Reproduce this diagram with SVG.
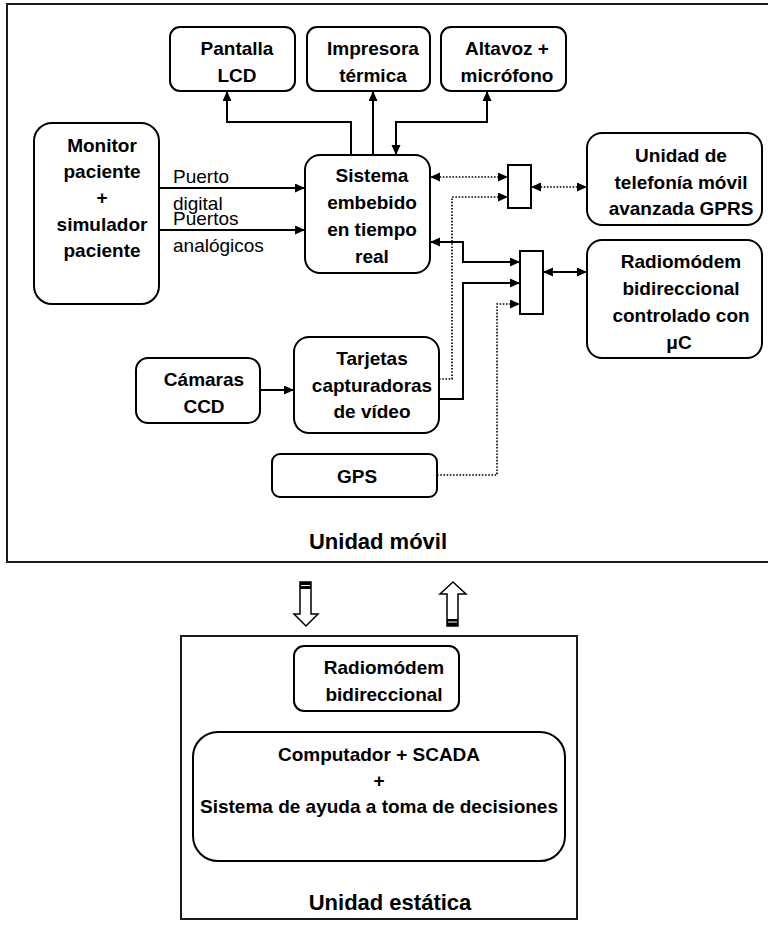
<svg xmlns="http://www.w3.org/2000/svg" width="768" height="925" viewBox="0 0 768 925">
<style>
.box{fill:#fff;stroke:#000;stroke-width:2}
.frame{fill:none;stroke:#1a1a1a;stroke-width:2}
.t{font-family:"Liberation Sans",Arial,sans-serif;font-weight:bold;font-size:19px;text-anchor:middle;fill:#000}
.lbl{font-family:"Liberation Sans",Arial,sans-serif;font-size:19px;fill:#000}
.big{font-family:"Liberation Sans",Arial,sans-serif;font-weight:bold;font-size:22px;text-anchor:middle;fill:#000}
.ln{fill:none;stroke:#000;stroke-width:2}
.dot{fill:none;stroke:#000;stroke-width:1.6;stroke-dasharray:1.6 1.6}
.hollow{fill:#fff;stroke:#000;stroke-width:1.5}
</style>
<defs>
<marker id="ah" markerUnits="userSpaceOnUse" markerWidth="10" markerHeight="10" refX="10" refY="4.5" orient="auto-start-reverse">
<path d="M0,0 L10,4.5 L0,9 Z" fill="#000"/>
</marker>
</defs>
<rect width="768" height="925" fill="#fff"/>

<g id="unidad-movil">
<rect class="frame" x="7" y="4" width="770" height="558"/>
<text class="big" x="378" y="549">Unidad móvil</text>
</g>

<g id="pantalla">
<rect class="box" x="170" y="27" width="125" height="64" rx="10"/>
<text class="t" x="237" y="55">Pantalla</text>
<text class="t" x="237" y="82">LCD</text>
</g>
<g id="impresora">
<rect class="box" x="307" y="27" width="123" height="64" rx="10"/>
<text class="t" x="373" y="55">Impresora</text>
<text class="t" x="373" y="82">térmica</text>
</g>
<g id="altavoz">
<rect class="box" x="441" y="27" width="125" height="64" rx="10"/>
<text class="t" x="507" y="55">Altavoz +</text>
<text class="t" x="507" y="82">micrófono</text>
</g>
<g id="monitor">
<rect class="box" x="34" y="123" width="125" height="181" rx="18"/>
<text class="t" x="102" y="152">Monitor</text>
<text class="t" x="102" y="178">paciente</text>
<text class="t" x="102" y="204">+</text>
<text class="t" x="102" y="231">simulador</text>
<text class="t" x="102" y="257">paciente</text>
</g>
<g id="sistema">
<rect class="box" x="305" y="155" width="125" height="118" rx="15"/>
<text class="t" x="372" y="182">Sistema</text>
<text class="t" x="372" y="209">embebido</text>
<text class="t" x="372" y="236">en tiempo</text>
<text class="t" x="372" y="263">real</text>
</g>
<g id="mux1">
<rect class="box" x="508" y="165" width="23" height="43"/>
</g>
<g id="mux2">
<rect class="box" x="520" y="251" width="23" height="63"/>
</g>
<g id="telefonia">
<rect class="box" x="587" y="133" width="175" height="92" rx="15"/>
<text class="t" x="681" y="162">Unidad de</text>
<text class="t" x="681" y="188.5">telefonía móvil</text>
<text class="t" x="681" y="215">avanzada GPRS</text>
</g>
<g id="radiomodem-movil">
<rect class="box" x="587" y="240" width="175" height="118" rx="15"/>
<text class="t" x="681" y="268">Radiomódem</text>
<text class="t" x="681" y="295">bidireccional</text>
<text class="t" x="681" y="322">controlado con</text>
<text class="t" x="679" y="349">μC</text>
</g>
<g id="camaras">
<rect class="box" x="136" y="358" width="124" height="65" rx="12"/>
<text class="t" x="204" y="386">Cámaras</text>
<text class="t" x="204" y="413">CCD</text>
</g>
<g id="tarjetas">
<rect class="box" x="294" y="337" width="145" height="96" rx="15"/>
<text class="t" x="372" y="365">Tarjetas</text>
<text class="t" x="372" y="392">capturadoras</text>
<text class="t" x="372" y="418">de vídeo</text>
</g>
<g id="gps">
<rect class="box" x="272" y="454" width="165" height="43" rx="8"/>
<text class="t" x="357" y="483">GPS</text>
</g>

<g id="connectors">
<path class="ln" d="M351,155 V122 H227 V91" marker-end="url(#ah)"/>
<path class="ln" d="M373,155 V91" marker-end="url(#ah)"/>
<path class="ln" d="M396,155 V122 H487 V91" marker-start="url(#ah)" marker-end="url(#ah)"/>
<path class="ln" d="M159,188 H305" marker-end="url(#ah)"/>
<path class="ln" d="M159,230 H305" marker-end="url(#ah)"/>
<text class="lbl" x="173" y="183">Puerto</text>
<text class="lbl" x="173" y="210">digital</text>
<text class="lbl" x="173" y="225">Puertos</text>
<text class="lbl" x="173" y="252">analógicos</text>
<path class="dot" d="M430,177 H508" marker-start="url(#ah)" marker-end="url(#ah)"/>
<path class="dot" d="M439,379 H452 V197 H508" marker-end="url(#ah)"/>
<path class="dot" d="M531,187 H587" marker-start="url(#ah)" marker-end="url(#ah)"/>
<path class="ln" d="M430,242 H463 V262 H520" marker-start="url(#ah)" marker-end="url(#ah)"/>
<path class="ln" d="M439,399 H463 V283 H520" marker-end="url(#ah)"/>
<path class="dot" d="M437,475 H497 V304 H520" marker-end="url(#ah)"/>
<path class="ln" d="M543,272 H587" marker-start="url(#ah)" marker-end="url(#ah)"/>
<path class="ln" d="M260,390 H294" marker-end="url(#ah)"/>
<path class="hollow" d="M300,582 H311 V614 H318 L306,626 L294,614 H300 Z"/>
<rect x="300" y="582" width="11" height="7" fill="#000"/>
<line x1="301" y1="585.5" x2="310" y2="585.5" stroke="#fff" stroke-width="1"/>
<path class="hollow" d="M453,582 L466,594 H458 V626 H447 V594 H440 Z"/>
<rect x="447" y="619" width="11" height="7" fill="#000"/>
<line x1="448" y1="622" x2="457" y2="622" stroke="#fff" stroke-width="1"/>
</g>

<g id="unidad-estatica">
<rect class="frame" x="181" y="636" width="396" height="283"/>
<text class="big" x="390" y="910">Unidad estática</text>
</g>
<g id="radiomodem-estatico">
<rect class="box" x="294" y="646" width="165" height="65" rx="10"/>
<text class="t" x="384" y="674">Radiomódem</text>
<text class="t" x="384" y="701">bidireccional</text>
</g>
<g id="computador">
<rect class="box" x="193" y="732" width="372" height="129" rx="25"/>
<text class="t" x="379" y="761">Computador + SCADA</text>
<text class="t" x="379" y="787">+</text>
<text class="t" x="379" y="813">Sistema de ayuda a toma de decisiones</text>
</g>
</svg>
